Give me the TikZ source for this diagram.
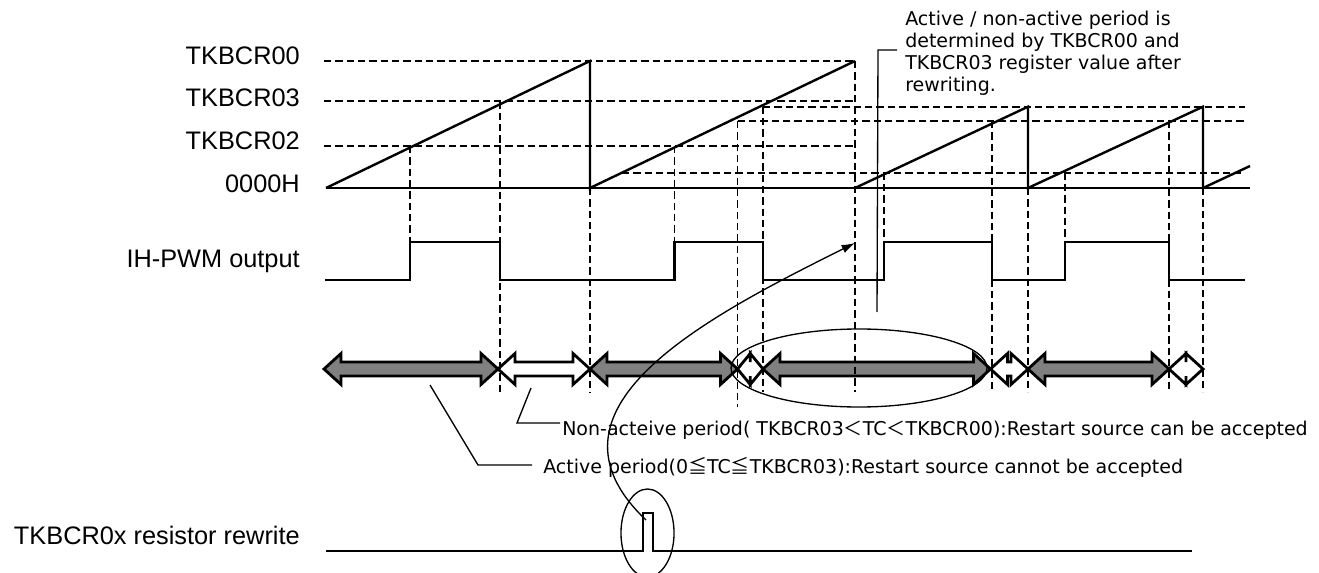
\documentclass[tikz,border=0pt]{standalone}
\usepackage{fontspec}
\setmainfont{Liberation Sans}
\newfontfamily\dejavu{DejaVu Sans}
\newfontfamily\cjk{Noto Sans CJK JP}
\usetikzlibrary{arrows.meta}
\definecolor{arrgray}{HTML}{808080}
\newcommand{\DblArr}[3]{%
  \pgfmathsetmacro\hh{min(17,(#2-#1)/2)}%
  \draw[#3] (#1,369) -- ({#1+\hh},353.5) -- ({#1+\hh},362) -- ({#2-\hh},362)
    -- ({#2-\hh},353.5) -- (#2,369) -- ({#2-\hh},384.5) -- ({#2-\hh},376)
    -- ({#1+\hh},376) -- ({#1+\hh},384.5) -- cycle;}
\begin{document}
\begin{tikzpicture}[x=0.75pt,y=-0.75pt,
  lab/.style={font=\fontsize{19}{22}\selectfont, anchor=base east, inner sep=0pt},
  note/.style={font=\dejavu\fontsize{14.25}{16.5}\selectfont, anchor=base west, inner sep=0pt},
  sig/.style={line width=1.8pt, line join=miter},
  dsh/.style={line width=1.35pt, dash pattern=on 5.5pt off 3pt},
  lead/.style={line width=1pt},
  garr/.style={fill=arrgray, draw=black, line width=2.1pt, line join=miter, miter limit=4},
  warr/.style={fill=white, draw=black, line width=2.1pt, line join=miter, miter limit=4}]
\useasboundingbox (0,0) rectangle (1319,573);

% labels
\node[lab] (l00) at (300,65) {TKBCR00};
\node[lab] (l03) at (300,106.5) {TKBCR03};
\node[lab] (l02) at (300,150) {TKBCR02};
\node[lab] (l0)  at (300,192.5) {0000H};
\node[lab] (lpwm) at (300,268) {IH-PWM output};
\node[lab] (lrw) at (300,544) {TKBCR0x resistor rewrite};

% period arrows
\DblArr{324}{498}{garr}
\DblArr{498}{590}{warr}
\DblArr{590}{737.5}{garr}
\DblArr{737.5}{763}{warr}
\DblArr{763}{990.5}{garr}
\DblArr{990.5}{1028}{warr}
\DblArr{1028}{1169}{garr}
\DblArr{1169}{1203}{warr}

% horizontal dashed levels
\draw[dsh] (324,61) -- (855,61);
\draw[dsh] (324,101.3) -- (855,101.3);
\draw[dsh] (324,146) -- (855,146);
\draw[dsh] (622,172.7) -- (1245,172.7);
\draw[dsh] (737.5,121) -- (1245,121);
\draw[dsh] (763,106.7) -- (1245,106.7);

% vertical dashed lines
\draw[dsh] (410,146) -- (410,242);
\draw[dsh] (500,101.3) -- (500,393);
\draw[dsh] (590,188) -- (590,393);
\draw[dsh] (674.5,146) -- (674.5,242);
\draw[dsh] (737.5,121) -- (737.5,407);
\draw[dsh] (763,106.7) -- (763,392);
\draw[dsh] (855,61) -- (855,392);
\draw[dsh] (884,172.7) -- (884,242);
\draw[dsh] (992,121) -- (992,392);
\draw[dsh] (1028,188) -- (1028,392);
\draw[dsh] (1065,172.7) -- (1065,242);
\draw[dsh] (1169,121) -- (1169,392);
\draw[dsh] (1203,188) -- (1203,392);

% counter
\draw[sig] (326,188) -- (1250,188);
\draw[sig] (326,188) -- (590,61) -- (590,191);
\draw[sig] (590,188) -- (855,61);
\draw[sig] (855,188) -- (1028,106.7) -- (1028,190);
\draw[sig] (1028,188) -- (1203,106.7) -- (1203,190);
\draw[sig] (1203,188) -- (1250,166);

% PWM output
\draw[sig] (325,280) -- (410,280) -- (410,242) -- (500,242) -- (500,280)
  -- (674.5,280) -- (674.5,242) -- (763,242) -- (763,280) -- (884,280)
  -- (884,242) -- (992,242) -- (992,280) -- (1065,280) -- (1065,242)
  -- (1169,242) -- (1169,280) -- (1245,280);

% rewrite signal
\draw[sig] (326,551) -- (643,551) -- (643,513) -- (652.7,513) -- (652.7,551) -- (1192,551);

% ellipses
\draw[lead] (859,368) ellipse [x radius=96pt, y radius=29.25pt];
\draw[lead] (647.5,533) ellipse [x radius=19.9pt, y radius=33pt];

% curved arrow from rewrite pulse
\coordinate (pulseTop) at (646,520);
\coordinate (pwmMark) at (855,243);
\draw[lead, -{Latex[length=10pt,width=6.5pt]}] (pulseTop) .. controls (530,410) and (700,320) .. (pwmMark);

% callout top right
\node[note] (c1) at (905,26) {Active / non-active period is};
\node[note] (c2) at (905,48) {determined by TKBCR00 and};
\node[note] (c3) at (905,70) {TKBCR03 register value after};
\node[note] (c4) at (905,92) {rewriting.};
\coordinate (cBot) at (877,312);
\coordinate (cTop) at (878,50);
\draw[lead] (cBot) -- (cTop) -- (897,50);

% period annotations
\node[note] (naText) at (562,435) {Non-acteive period( TKBCR03{\cjk ＜}TC{\cjk ＜}TKBCR00):Restart source can be accepted};
\node[note] (acText) at (543,473) {Active period(0{\cjk ≦}TC{\cjk ≦}TKBCR03):Restart source cannot be accepted};
\coordinate (naTip) at (531,388);
\coordinate (naBend) at (517,423);
\draw[lead] (naTip) -- (naBend) -- (560,423);
\coordinate (acTip) at (430,385);
\coordinate (acBend) at (478,465);
\draw[lead] (acTip) -- (acBend) -- (532,465);
\end{tikzpicture}
\end{document}
